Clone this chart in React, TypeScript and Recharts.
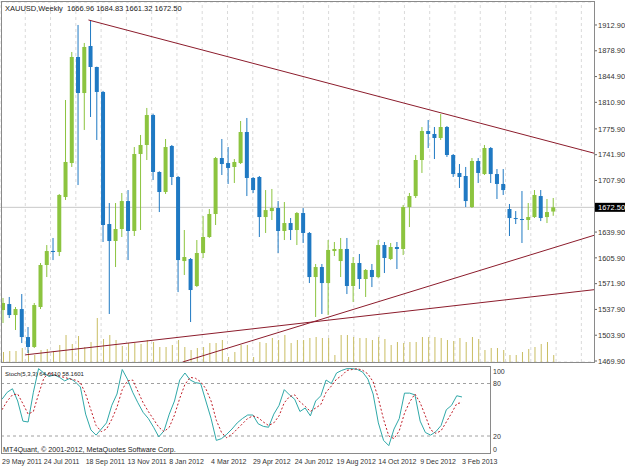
import React from 'react';
import { ComposedChart, LineChart, Line, Bar, XAxis, YAxis, CartesianGrid, ReferenceLine } from 'recharts';

const FONT = '"Liberation Sans", Arial, sans-serif';

// ---- weekly XAUUSD candles (29 May 2011 .. 3 Feb 2013) ----
const opens = [1537.1,1545.0,1530.5,1538.4,1501.5,1488.4,1541.1,1596.5,1615.0,1613.6,
1686.1,1730.9,1870.7,1823.2,1885.2,1857.5,1824.6,1650.5,1628.1,1643.9,
1680.8,1641.3,1742.8,1754.7,1794.2,1719.1,1692.7,1753.4,1712.5,1601.7,
1604.4,1568.8,1612.3,1633.4,1663.7,1737.5,1730.9,1725.7,1730.9,1771.8,
1711.2,1712.5,1659.7,1667.6,1671.6,1641.3,1651.8,1642.6,1665.0,1638.7,
1580.6,1593.8,1572.7,1614.9,1601.7,1617.6,1568.8,1599.1,1578.0,1589.9,
1580.6,1622.8,1604.4,1620.2,1617.6,1672.9,1687.4,1734.9,1773.1,1769.2,
1763.9,1778.4,1741.5,1717.8,1713.8,1672.9,1733.6,1716.4,1750.7,1716.4,
1703.3,1670.3,1658.4,1657.1,1655.8,1659.7,1687.4,1659.7,1666.96];

const highs = [1553.0,1554.3,1541.1,1558.2,1514.7,1546.4,1599.1,1622.8,1632.1,1690.0,
1814.0,1877.3,1912.9,1889.2,1919.5,1858.0,1826.0,1678.2,1678.2,1691.4,
1695.3,1752.0,1767.9,1803.5,1796.0,1720.0,1762.6,1754.7,1713.8,1642.6,
1605.7,1629.4,1661.0,1670.3,1738.9,1762.6,1752.0,1736.2,1786.3,1790.3,
1712.5,1713.8,1695.3,1696.7,1680.8,1679.5,1658.4,1666.3,1671.6,1640.0,
1597.8,1597.8,1629.4,1626.8,1632.1,1632.1,1607.0,1611.0,1591.2,1597.8,
1629.4,1626.8,1625.5,1626.8,1675.6,1691.4,1741.5,1778.4,1787.6,1778.4,
1795.5,1779.7,1742.8,1729.6,1725.7,1737.5,1737.5,1754.7,1752.0,1723.0,
1723.0,1676.9,1667.6,1694.0,1678.2,1695.3,1695.3,1683.5,1684.83];

const lows = [1520.0,1526.6,1510.8,1493.6,1480.4,1487.0,1538.4,1580.6,1603.0,1608.3,
1682.2,1725.7,1701.9,1774.5,1791.6,1761.3,1626.8,1531.9,1593.8,1633.4,
1603.0,1634.7,1642.6,1734.9,1708.5,1666.3,1690.1,1701.9,1560.8,1583.3,
1521.3,1567.4,1605.7,1632.1,1649.2,1715.1,1703.3,1704.6,1729.6,1687.4,
1691.4,1633.4,1638.7,1655.8,1612.3,1629.4,1629.4,1622.8,1625.5,1572.7,
1527.9,1531.9,1530.5,1608.3,1580.6,1558.2,1547.7,1564.8,1554.3,1567.4,
1579.0,1585.9,1603.0,1591.2,1609.6,1646.5,1684.8,1717.8,1750.7,1736.2,
1761.3,1738.9,1712.5,1698.0,1672.9,1671.6,1704.6,1715.1,1704.6,1683.5,
1688.8,1634.7,1650.5,1625.5,1642.6,1658.4,1654.4,1651.8,1661.32];

const closes = [1546.4,1530.5,1538.4,1501.5,1488.4,1543.7,1596.5,1614.9,1613.6,1688.8,
1732.3,1870.7,1823.2,1883.9,1857.5,1824.6,1649.2,1628.1,1643.9,1680.8,
1641.3,1742.8,1754.7,1794.2,1719.1,1692.7,1752.0,1712.5,1603.0,1607.0,
1563.5,1612.3,1633.4,1663.7,1737.5,1729.6,1724.4,1732.3,1771.8,1711.2,
1695.3,1659.7,1668.9,1671.6,1641.3,1651.8,1642.6,1665.0,1638.7,1580.6,
1593.8,1572.7,1616.3,1617.6,1617.6,1568.8,1599.1,1578.0,1589.9,1580.6,
1622.8,1605.7,1620.2,1617.6,1672.9,1687.4,1734.9,1773.1,1769.2,1763.9,
1778.4,1741.5,1716.4,1712.5,1680.8,1733.6,1717.8,1750.7,1716.4,1703.3,
1695.3,1658.4,1657.1,1655.8,1659.7,1688.8,1658.4,1666.3,1672.50];

// tick volume (relative units)
const volumes = [10,11,11,14,12,7,12,13,11,17,
27,18,26,15,20,44,23,27,22,16,
19,19,18,22,20,15,15,17,22,15,
12,14,15,19,19,22,5,10,17,17,
5,20,19,24,22,27,19,22,22,24,
25,24,24,7,27,27,25,24,24,22,
25,23,17,20,19,20,20,25,25,25,
24,22,21,24,20,25,23,12,14,14,
12,7,7,10,13,15,18,20,7];

// Stochastic (5,3,3)
const stochMain = [62,70,74,60,37,36,70,97,92,88,
90,87,83,86,82,76,45,27,21,28,
35,55,68,96,85,70,58,47,40,30,
19,26,45,60,84,92,84,81,80,60,
40,15,17,22,28,35,40,44,44,34,
31,30,45,55,73,67,62,48,52,43,
60,66,84,80,92,95,97,97,96,93,
85,68,35,15,9,28,40,69,69,67,
37,24,21,25,32,50,55,66,64.611];

const stochSignal = [50,60,67,68,57,45,48,68,86,92,
90,88,87,85,84,81,68,50,32,25,
28,39,53,73,83,84,71,58,48,39,
30,25,30,44,63,79,87,86,82,74,
60,38,24,18,22,28,34,40,43,41,
36,32,35,43,58,65,67,59,54,48,
52,56,70,77,85,89,95,96,97,95,
91,82,63,39,20,17,26,46,59,68,
58,43,27,23,26,36,46,57,58.1601];

const dateLabels = ['29 May 2011','24 Jul 2011','18 Sep 2011','13 Nov 2011','8 Jan 2012','4 Mar 2012',
  '29 Apr 2012','24 Jun 2012','19 Aug 2012','14 Oct 2012','9 Dec 2012','3 Feb 2013'];
const dateIdx = [0,8,16,24,32,40,48,56,64,72,80,88];

const priceTicks = [1912.9,1878.9,1844.9,1810.9,1775.9,1741.9,1707.9,1672.5,1639.9,1605.9,1571.9,1537.9,1503.9,1469.9];
const CURRENT = 1672.5;
const gridIdx = [0,4,8,12,16,20,24,28,32,36,40,44,48,52,56,60,64,68,72,76,80,84,88,92];
const stochTicks = [0,20,80,100];

// trend lines in (bar index, price)
const trendLines = [
  { x1: 14, y1: 1919.5, x2: 94.5, y2: 1742.8 },
  { x1: 28.9, y1: 1468.6, x2: 94.5, y2: 1636.9 },
  { x1: 4, y1: 1478.0, x2: 94.5, y2: 1564.4 },
];

const FUTURE_SLOTS = 6;
const PRICE_DOMAIN: [number, number] = [1468.6, 1943.2];
const X_DOMAIN: [number, number] = [-0.5, 94.5];

const GREEN = '#8cc43f';
const BLUE = '#1f79c3';
const RED_LINE = '#8c1c2c';
const GRID = '#dadada';

const rows: any[] = opens.map((o, i) => ({
  i, open: o, high: highs[i], low: lows[i], close: closes[i],
  range: [lows[i], highs[i]], volume: volumes[i],
}));
for (let k = 0; k < FUTURE_SLOTS; k++) {
  rows.push({ i: opens.length + k, open: null, high: null, low: null, close: null, range: null, volume: null });
}

const stochRows = stochMain.map((k, i) => ({ i, k, d: stochSignal[i] }));

const Candle = (props: any) => {
  const { x, y, width, height, payload } = props;
  if (!payload || payload.high == null || x == null || y == null) return <g />;
  const top = Math.min(y, y + height);
  const h = Math.abs(height);
  const { open, close, high, low } = payload;
  const py = (v: number) => top + (high === low ? 0 : (h * (high - v)) / (high - low));
  const up = close >= open;
  const color = up ? GREEN : BLUE;
  const cx = x + width / 2;
  const bTop = py(Math.max(open, close));
  const bBot = py(Math.min(open, close));
  return (
    <g>
      <line x1={cx} x2={cx} y1={top} y2={top + h} stroke={color} strokeWidth={1} />
      <rect x={x} y={bTop} width={width} height={Math.max(1, bBot - bTop)} fill={color} />
    </g>
  );
};

const PriceTick = (props: any) => {
  const { x, y, payload } = props;
  const v = payload.value;
  if (Math.abs(v - CURRENT) < 1e-6) {
    return (
      <g>
        <rect x={x + 1} y={y - 4.5} width={32} height={9} fill="#000" />
        <text x={x + 4} y={y + 2.7} fontSize={7.5} fill="#fff" fontFamily={FONT}>{v.toFixed(2)}</text>
      </g>
    );
  }
  return (
    <g>
      <line x1={x} x2={x + 3} y1={y} y2={y} stroke="#666" />
      <text x={x + 4} y={y + 2.7} fontSize={7.5} fill="#333" fontFamily={FONT}>{v.toFixed(2)}</text>
    </g>
  );
};

const StochTick = (props: any) => {
  const { x, y, payload } = props;
  const v = payload.value;
  const dy = v === 100 ? 8 : v === 0 ? -1.7 : 2.7;
  return (
    <text x={x + 3} y={y + dy} fontSize={7} fill="#333" fontFamily={FONT}>{String(v)}</text>
  );
};

const DateTick = (props: any) => {
  const { x, y, payload } = props;
  const idx = dateIdx.indexOf(payload.value);
  return (
    <text x={x} y={y + 10} fontSize={7} fill="#333" fontFamily={FONT}>{idx >= 0 ? dateLabels[idx] : ''}</text>
  );
};

export default function App() {
  const last = opens.length - 1;
  const title = `XAUUSD,Weekly  ${opens[last].toFixed(2)} ${highs[last].toFixed(2)} ${lows[last].toFixed(2)} ${closes[last].toFixed(2)}`;
  const stochTitle = `Stoch(5,3,3) ${stochMain[last].toFixed(4)} ${stochSignal[last].toFixed(4)}`;
  const margin = { top: 2, right: 0, left: 0, bottom: 3 };
  return (
    <div style={{ position: 'absolute', left: 0, top: 0, width: 625, height: 469, background: '#fff', overflow: 'hidden' }}>
      {/* background layer: grid + bid line */}
      <div style={{ position: 'absolute', left: 0, top: 0 }}>
        <ComposedChart width={625} height={365} data={rows} margin={margin}>
          <XAxis xAxisId="n" type="number" domain={X_DOMAIN} ticks={gridIdx} hide allowDataOverflow />
          <YAxis yAxisId="price" orientation="right" width={31} domain={PRICE_DOMAIN} ticks={priceTicks}
            interval={0} allowDataOverflow tick={false} axisLine={false} tickLine={false} />
          <CartesianGrid xAxisId="n" yAxisId="price" vertical={false} stroke={GRID} strokeDasharray="3 3" />
          {gridIdx.map((g) => (
            <ReferenceLine key={'g' + g} xAxisId="n" yAxisId="price" x={g} stroke={GRID} strokeDasharray="3 3" />
          ))}
          <ReferenceLine xAxisId="n" yAxisId="price" y={CURRENT} stroke="#c8c8c8" />
        </ComposedChart>
      </div>
      {/* main layer */}
      <div style={{ position: 'absolute', left: 0, top: 0 }}>
        <ComposedChart width={625} height={365} data={rows} margin={margin}>
          <XAxis xAxisId="cat" dataKey="i" type="category" hide />
          <XAxis xAxisId="catV" dataKey="i" type="category" hide />
          <XAxis xAxisId="n" type="number" domain={X_DOMAIN} hide allowDataOverflow />
          <YAxis yAxisId="price" orientation="right" width={31} domain={PRICE_DOMAIN} ticks={priceTicks}
            interval={0} allowDataOverflow axisLine={false} tickLine={false} tickSize={0} tickMargin={0}
            tick={<PriceTick />} />
          <YAxis yAxisId="vol" hide domain={[0, 360]} allowDataOverflow />
          <Bar xAxisId="catV" yAxisId="vol" dataKey="volume" barSize={1} fill="#c9bd62" isAnimationActive={false} />
          <Bar xAxisId="cat" yAxisId="price" dataKey="range" barSize={4} isAnimationActive={false}
            shape={(p: any) => <Candle {...p} />} />
          {trendLines.map((t, k) => (
            <ReferenceLine key={k} xAxisId="n" yAxisId="price" ifOverflow="hidden"
              segment={[{ x: t.x1, y: t.y1 }, { x: t.x2, y: t.y2 }]} stroke={RED_LINE} strokeWidth={1} />
          ))}
        </ComposedChart>
      </div>
      <div style={{ position: 'absolute', left: 0, top: 363 }}>
        <LineChart width={625} height={106} data={stochRows} margin={{ top: 3, right: 105, left: 2, bottom: 0 }}>
          <XAxis dataKey="i" type="number" domain={[0, 93.36]} ticks={dateIdx} interval={0} height={15.5}
            axisLine={false} tickLine={false} tickSize={0} tickMargin={0} tick={<DateTick />} allowDataOverflow />
          <YAxis orientation="right" width={30} domain={[0, 100]} ticks={stochTicks} interval={0}
            axisLine={false} tickLine={false} tickSize={0} tickMargin={0} tick={<StochTick />} allowDataOverflow />
          <ReferenceLine y={80} stroke="#a0a0a0" strokeDasharray="3 3" />
          <ReferenceLine y={20} stroke="#a0a0a0" strokeDasharray="3 3" />
          <Line dataKey="k" type="linear" stroke="#2fa8a8" strokeWidth={1} dot={false} isAnimationActive={false} />
          <Line dataKey="d" type="linear" stroke="#c0202a" strokeWidth={1} strokeDasharray="2 2" dot={false} isAnimationActive={false} />
        </LineChart>
      </div>
      <svg width={625} height={469} style={{ position: 'absolute', left: 0, top: 0, pointerEvents: 'none' }}>
        <rect x={1.5} y={1.5} width={593} height={361} fill="none" stroke="#8a8a8a" />
        <rect x={1.5} y={366.5} width={489} height={87} fill="none" stroke="#8a8a8a" />
        <text x={5} y={10.5} fontSize={7.5} fill="#222" fontFamily={FONT} style={{ whiteSpace: 'pre' }}>{title}</text>
        <text x={5} y={375.5} fontSize={6} fill="#222" fontFamily={FONT}>{stochTitle}</text>
        <text x={3} y={452} fontSize={7.2} fill="#222" fontFamily={FONT}>MT4Quant, © 2001-2012, MetaQuotes Software Corp.</text>
      </svg>
    </div>
  );
}
